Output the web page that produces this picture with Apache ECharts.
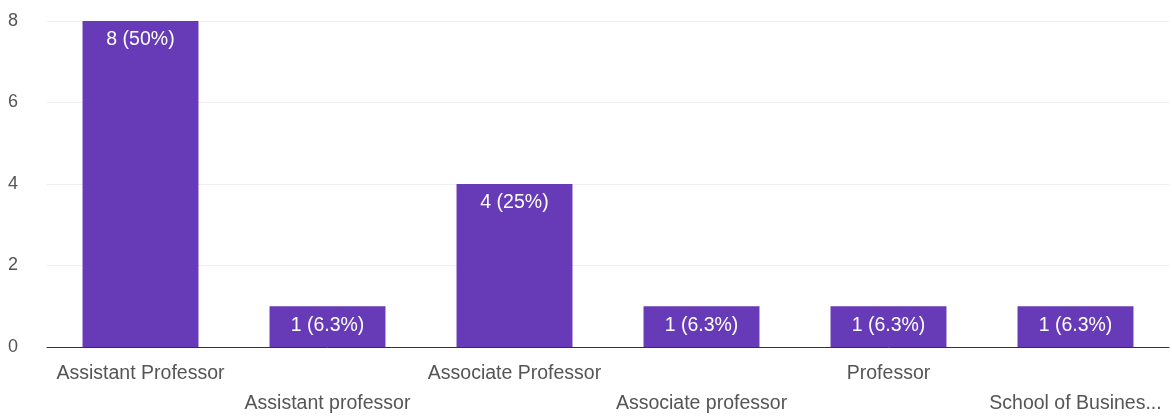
<!DOCTYPE html>
<html>
<head>
<meta charset="utf-8">
<script src="https://cdn.jsdelivr.net/npm/echarts@6/dist/echarts.min.js"></script>
<style>html,body{margin:0;padding:0;background:#fff}#c{width:1172px;height:419px}</style>
</head>
<body>
<div id="c"></div>
<script>
const categories = ["Assistant Professor", "Assistant professor", "Associate Professor", "Associate professor", "Professor", "School of Busines..."];
const counts = [8, 1, 4, 1, 1, 1];
const percents = ["50%", "6.3%", "25%", "6.3%", "6.3%", "6.3%"];
const yTicks = [0, 2, 4, 6, 8];

const FONT = '"Liberation Sans", Arial, sans-serif';
const chart = echarts.init(document.getElementById('c'));
chart.setOption({
  animation: false,
  grid: {left: 47, right: 3, top: 21, bottom: 68, containLabel: false},
  xAxis: {
    type: 'category',
    data: categories,
    axisTick: {show: false},
    axisLine: {lineStyle: {color: '#333', width: 1}},
    axisLabel: {
      interval: 0,
      color: '#555',
      fontFamily: FONT,
      fontSize: 19.5,
      lineHeight: 30,
      margin: 12,
      formatter: (v, i) => (i % 2 === 1 ? '\n' + v : v)
    }
  },
  yAxis: {
    type: 'value',
    min: yTicks[0],
    max: yTicks[yTicks.length - 1],
    interval: 2,
    axisLabel: {color: '#555', fontFamily: FONT, fontSize: 18, margin: 39, align: 'left'},
    splitLine: {lineStyle: {color: '#eeeeee'}},
    axisLine: {show: false},
    axisTick: {show: false}
  },
  series: [{
    type: 'bar',
    data: counts,
    barWidth: '62%',
    itemStyle: {color: '#673ab7'},
    label: {
      show: true,
      position: 'insideTop',
      distance: 9,
      color: '#fff',
      fontFamily: FONT,
      fontSize: 19.5,
      formatter: p => p.value + ' (' + percents[p.dataIndex] + ')'
    }
  }]
});
</script>
</body>
</html>
